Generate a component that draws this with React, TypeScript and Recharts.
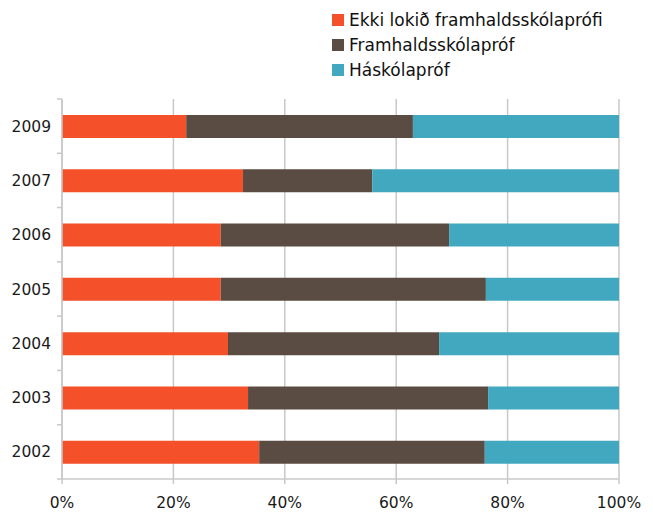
import React from 'react';
import { BarChart, Bar, XAxis, YAxis, CartesianGrid, Legend } from 'recharts';

const years = ['2009', '2007', '2006', '2005', '2004', '2003', '2002'];
const ekkiLokid = [22.3, 32.5, 28.5, 28.5, 29.8, 33.4, 35.4];
const framhald = [40.7, 23.2, 41.0, 47.6, 37.9, 43.1, 40.5];
const haskoli = [37.0, 44.3, 30.5, 23.9, 32.3, 23.5, 24.1];
const xTicks = [0, 20, 40, 60, 80, 100];

const series = [
  { key: 'ekki', name: 'Ekki lokið framhaldsskólaprófi', color: '#f4502a' },
  { key: 'framhald', name: 'Framhaldsskólapróf', color: '#5a4c42' },
  { key: 'haskoli', name: 'Háskólapróf', color: '#41a8c0' },
];

const data = years.map((y, i) => ({
  year: y,
  ekki: ekkiLokid[i],
  framhald: framhald[i],
  haskoli: haskoli[i],
}));

const W = 653;
const H = 512;
const TOP = 99;
const BOTTOM = 33;
const LEFT = 62;
const RIGHT = 34;
const band = (H - TOP - BOTTOM) / years.length;
const font = '"DejaVu Sans", sans-serif';
const grid = '#c8c8c8';

const YTick = (props: any) => {
  const { x, y, payload, index } = props;
  const last = index === years.length - 1;
  return (
    <g>
      <line x1={x + 3} x2={x + 8} y1={y - band / 2} y2={y - band / 2} stroke={grid} strokeWidth={1.5} />
      {last && <line x1={x + 3} x2={x + 8} y1={y + band / 2} y2={y + band / 2} stroke={grid} strokeWidth={1.5} />}
      <text x={x - 3} y={y} dy={5.5} textAnchor="end" fill="#1a1a1a" fontSize={15.5} fontFamily={font}>
        {payload.value}
      </text>
    </g>
  );
};

const XTick = (props: any) => {
  const { x, y, payload } = props;
  return (
    <text x={x} y={y} dy={22} textAnchor="middle" fill="#1a1a1a" fontSize={15.5} fontFamily={font}>
      {`${payload.value}%`}
    </text>
  );
};

const LegendBox = () => (
  <div style={{ fontFamily: font, fontSize: 17, color: '#111' }}>
    {series.map((s) => (
      <div key={s.key} style={{ display: 'flex', alignItems: 'center', height: 25 }}>
        <span style={{ width: 12, height: 12, background: s.color, marginRight: 5, display: 'inline-block' }} />
        <span>{s.name}</span>
      </div>
    ))}
  </div>
);

export default function App() {
  return (
    <div style={{ position: 'absolute', left: 0, top: 0, background: '#fff' }}>
      <BarChart
        width={W}
        height={H}
        data={data}
        layout="vertical"
        margin={{ top: TOP, right: RIGHT, bottom: 0, left: 0 }}
        barSize={23}
      >
        <CartesianGrid horizontal={false} stroke={grid} strokeWidth={1.5} />
        <XAxis
          type="number"
          domain={[0, 100]}
          ticks={xTicks}
          axisLine={{ stroke: grid, strokeWidth: 1.5 }}
          tickLine={{ stroke: grid, strokeWidth: 1.5 }}
          tickSize={5}
          height={BOTTOM}
          tick={<XTick />}
          interval={0}
        />
        <YAxis
          type="category"
          dataKey="year"
          width={LEFT}
          axisLine={{ stroke: grid, strokeWidth: 1.5 }}
          tickLine={false}
          tick={<YTick />}
          interval={0}
        />
        <Legend
          layout="vertical"
          align="center"
          verticalAlign="middle"
          content={<LegendBox />}
          wrapperStyle={{ top: 7, left: 332, width: 315 }}
        />
        {series.map((s) => (
          <Bar key={s.key} dataKey={s.key} name={s.name} stackId="a" fill={s.color} isAnimationActive={false} />
        ))}
      </BarChart>
    </div>
  );
}
